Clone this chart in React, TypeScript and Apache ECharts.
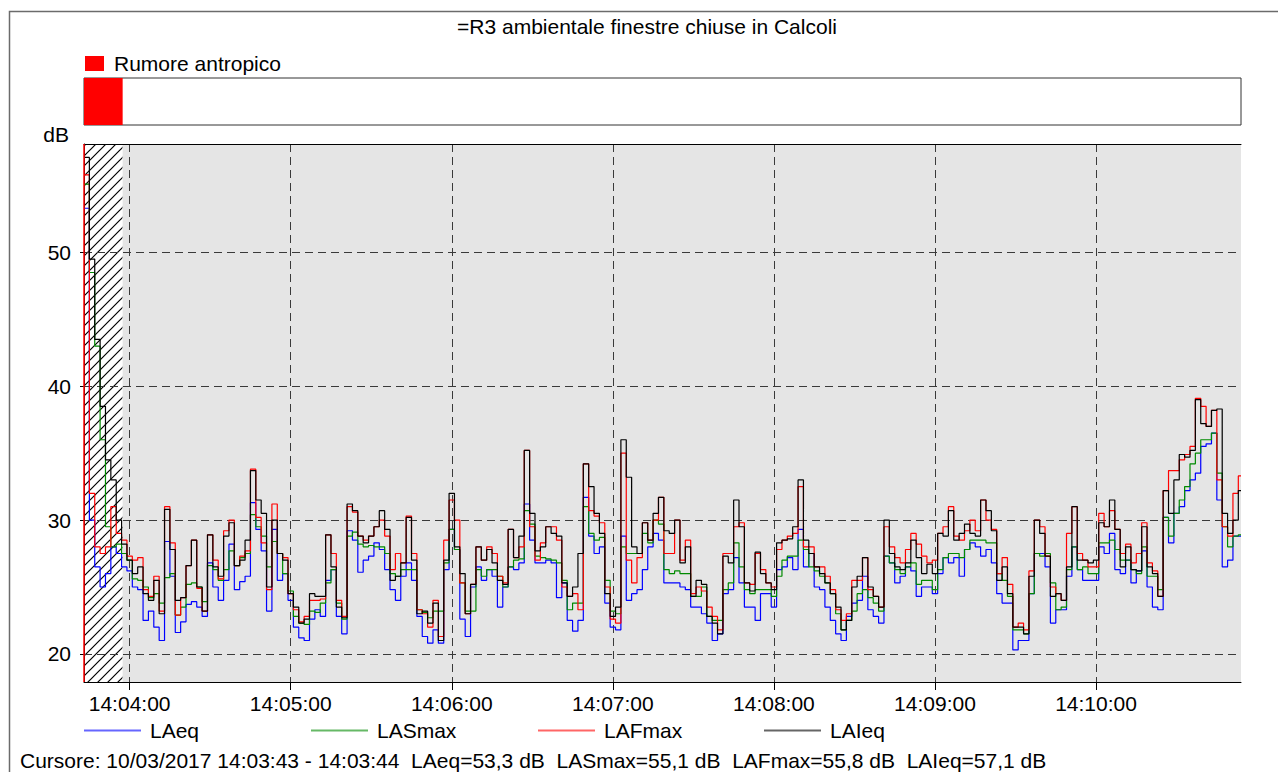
import React, { useEffect, useRef } from 'react';
import * as echarts from 'echarts';

// ---------- texts ----------
const chartTitle = '=R3 ambientale finestre chiuse in Calcoli';
const eventLabel = 'Rumore antropico';
const cursorText =
  'Cursore: 10/03/2017 14:03:43 - 14:03:44  LAeq=53,3 dB  LASmax=55,1 dB  LAFmax=55,8 dB  LAIeq=57,1 dB';
const yUnit = 'dB';

// ---------- time axis ----------
const axisOrigin = '14:04:00';
const axisStart = '14:03:43';
const axisEnd = '14:10:54';
const sampleStart = '14:03:43';
const sampleStepSeconds = 2;
const cursorTime = '14:03:43';
const eventRange = ['14:03:43', '14:03:57.4'];
const xTickLabels = ['14:04:00', '14:05:00', '14:06:00', '14:07:00', '14:08:00', '14:09:00', '14:10:00'];

// ---------- level axis ----------
const yRange = [17.9, 58.1];
const yTicks = [20, 30, 40, 50];

// ---------- series (dB), one value per 2 s from 14:03:43 ----------
const LAeq = [
  53.3, 30, 26.5, 25, 26, 28, 27.5, 26.5, 26.2, 25,
  24.8, 22.5, 23.2, 22, 21, 28.4, 25.8, 21.6, 22.4, 23.7,
  23.9, 23.5, 22.8, 26.8, 25, 24, 25.5, 28.2, 24.8, 25.4,
  25.8, 31.3, 29.3, 27.7, 23.2, 29.3, 25.5, 26, 24, 22,
  21.2, 21, 22.6, 23.3, 22.8, 25.5, 26.3, 22.8, 21.5, 29.2,
  28.5, 26.1, 27, 27.3, 28.3, 27.8, 26.3, 24.8, 24, 25.8,
  26.8, 25.5, 22.8, 21.3, 20.8, 21.8, 20.8, 26.3, 29.3, 27.8,
  22.6, 21.3, 25, 26.5, 25.5, 26.3, 25.8, 23.5, 25, 26.5,
  26.3, 26.8, 31.2, 28.5, 26.8, 26.8, 27, 26.8, 24.2, 25.3,
  22.5, 21.7, 22.5, 31.7, 28.8, 27.5, 28, 23.8, 22, 21.8,
  28.8, 24, 24.5, 24.8, 26.3, 28, 29, 28.5, 25.3, 25.3,
  25.3, 25, 24.8, 23.5, 23.5, 23, 22.3, 21, 21.5, 24.5,
  24.8, 27.2, 25.3, 23.5, 23.5, 22.5, 24.5, 24.5, 23.5, 26.3,
  26.5, 27.2, 26.3, 29.3, 26.5, 27.5, 25, 24.8, 23.5, 22.5,
  21.5, 21, 22.8, 23.8, 24, 25.8, 23.3, 22.8, 22.3, 27.3,
  26.8, 25.3, 25.8, 26.5, 26.2, 24.3, 25, 25, 24.5, 26,
  27.2, 26.8, 27.2, 25.8, 27.8, 28.3, 28, 27.3, 27.8, 26.8,
  24.5, 23.8, 23.8, 20.3, 21, 21, 24.5, 27.5, 27.5, 26.5,
  22.3, 23.3, 23.3, 25.8, 28, 26.3, 25.5, 25.5, 25.5, 28,
  27.5, 29, 26.3, 26, 27, 25.3, 26.2, 27.7, 25, 23.5,
  23.3, 30.2, 28.3, 30.5, 31, 32.2, 33, 33.5, 35.5, 35.7,
  36.5, 31.5, 26.5, 27, 28.8, 28.8,
];

const LASmax = [
  55.1, 48.5, 43, 36, 29.5, 28, 28.2, 27.5, 27, 25.6,
  25.5, 25, 24.2, 24.5, 23.8, 25.7, 26, 22.9, 23.5, 25.2,
  25.3, 25, 23.9, 26.6, 26.3, 25.5, 26.3, 27.7, 26.6, 27.2,
  27.5, 30.4, 29.5, 28.8, 26.5, 28.4, 27.5, 26, 24.7, 22.8,
  22.3, 22.2, 23.2, 23.1, 23.8, 25.3, 26.3, 23.8, 22.6, 28.8,
  29.1, 28.2, 28, 28.1, 28, 28, 27.5, 26, 25.8, 26.3,
  26.3, 26.3, 23.3, 23.1, 22.7, 23.2, 23.2, 26.8, 29.3, 27.8,
  25.3, 23.2, 23.2, 26.3, 25.8, 26.3, 26.3, 25.8, 25, 26.5,
  27, 27.1, 30.7, 29.7, 27.3, 27.2, 27.1, 27, 26.8, 25.5,
  23.3, 23.8, 23.8, 31, 29, 28.5, 28.7, 25.5, 23.2, 23,
  28, 27.5, 27.5, 27.5, 29, 28.3, 30, 29.7, 26.3, 26,
  26.2, 26, 26, 24.3, 24.3, 25, 22.8, 22.5, 22.5, 24.8,
  25.3, 28.3, 26.5, 24.8, 24.5, 24.8, 24.8, 24.8, 24.3, 25.8,
  27, 27.3, 27.3, 28.5, 27.8, 26.5, 26.2, 25.8, 25.3, 24.5,
  23, 21.8, 22.5, 23.2, 24.5, 24.8, 24.2, 23.8, 23.2, 27.3,
  26.8, 26.3, 26, 26.5, 26.8, 25.2, 25.5, 25.5, 24.8, 26.3,
  27.2, 27.5, 27.5, 27.2, 27.8, 28.5, 28.5, 28.5, 28.3, 28.3,
  26, 25.5, 24.3, 21.8, 21.8, 21.5, 24.5, 27.5, 27.3, 27.5,
  25.3, 23.3, 23.5, 26.3, 28, 26.3, 26.5, 26, 26, 28.3,
  28.3, 28.5, 27.8, 27, 27, 26.3, 26, 28, 25.8, 25.8,
  24.8, 30.2, 28.8, 30.5, 31.5, 32.5, 34.2, 35, 36, 36,
  36.5, 33.5, 29.5, 28, 28.8, 28.9,
];

const LAFmax = [
  55.8, 32, 28, 27.5, 28, 31, 29, 28.5, 27.3, 27,
  27.2, 24.8, 24.3, 25.8, 23.2, 31, 28.3, 22.9, 24.2, 26.6,
  28.5, 24.9, 23.2, 28.9, 27, 25.6, 29.2, 30, 26.6, 27.3,
  27.7, 33.8, 30.2, 28.3, 24.8, 31.2, 27.5, 27.2, 24.5, 23.3,
  22.4, 22.8, 24, 24, 24.1, 28.9, 27.5, 24, 22.8, 31,
  30.6, 28.8, 28.5, 28.8, 29.5, 30, 28.8, 26.3, 27.5, 26.8,
  30.3, 27.5, 23.3, 23, 22, 24, 21.3, 28.5, 31.5, 30,
  25.3, 23, 25.2, 28, 27, 28, 27.5, 25.8, 25.3, 29.3,
  27.2, 28, 35.2, 29.5, 27, 28.3, 29.5, 29.5, 28.5, 25,
  24.3, 24.5, 23.3, 34.2, 30.7, 30.3, 29.8, 25, 22.6, 22.3,
  35, 27, 25.3, 27.2, 29.8, 28.5, 30, 31.7, 27.5, 27.5,
  30, 27, 28.5, 24.5, 25, 24.7, 23.5, 22.8, 21.8, 27.5,
  27.5, 29.5, 29.8, 25.3, 25.2, 27.5, 26.3, 25.3, 25, 27.8,
  28.5, 28.8, 29, 32.5, 28, 28, 26.5, 26.5, 25.8, 24.8,
  23.3, 22.5, 23, 25.5, 25.5, 27.2, 24.8, 24.3, 23.5, 29.5,
  28, 27.2, 26.8, 27.8, 29, 28.2, 27.3, 26.8, 27, 29,
  29.5, 31, 28.8, 28.5, 29.2, 30, 29.2, 31.5, 30, 29.3,
  26, 27.2, 25.2, 22, 22.3, 21.8, 26.2, 30, 29.5, 27.3,
  25, 24.5, 24, 29, 31, 27.5, 27, 26.5, 26.5, 30.5,
  29.5, 30.7, 29.3, 27.5, 28.2, 26.8, 27.5, 29.8, 26.8, 26.2,
  24.3, 32.2, 33.7, 33.7, 34.5, 34.9, 35.5, 39.1, 38.5, 37,
  38.2, 33, 29.5, 28.8, 32, 33.3,
];

const LAIeq = [
  57.1, 49.5, 43.5, 38.5, 34.5, 33, 30, 28.2, 27, 26,
  26.5, 24.5, 24, 25.5, 23, 30.8, 27.8, 24, 24.2, 26.6,
  28.5, 25, 23.2, 28.9, 26.5, 25.8, 28.8, 29.8, 26.6, 27,
  28.5, 33.7, 31.5, 30.5, 25, 30, 27.5, 27, 24.5, 23.5,
  22.3, 22.6, 24.5, 24.3, 24.3, 28.9, 26.5, 23.5, 22.7, 31.2,
  30.7, 28.8, 28.3, 28.8, 29.5, 30.7, 29.3, 25.5, 25.8, 26.8,
  30.2, 27, 23, 23.2, 22.3, 23.8, 21, 27, 32, 28,
  26, 23, 25.2, 28, 27, 27.8, 26.8, 25.5, 25.2, 29.3,
  27.2, 28.8, 35.2, 30.5, 27.7, 28, 29.5, 29, 28.8, 25.3,
  24.3, 25, 27.5, 34.2, 32.5, 30.5, 29, 24.5, 22.8, 23.5,
  36, 33.2, 28, 27.5, 29.8, 28.5, 30.5, 31.7, 29.2, 29,
  30, 26.8, 28, 24.3, 25.5, 25.2, 22.8, 22.3, 21.5, 27.3,
  26.8, 31.5, 29.5, 25.3, 24.7, 27.6, 26, 25.3, 24.8, 28.3,
  28.5, 28.6, 29.5, 33, 28.5, 27.5, 26.5, 26, 25.3, 24.5,
  23.5, 21.8, 22.5, 25, 25.8, 27.2, 25, 24.3, 23.5, 30,
  27.5, 26.5, 26.3, 26.8, 28.5, 27.2, 26, 26.7, 26, 29,
  28.8, 30.7, 28.5, 29, 29.7, 29, 28.8, 31.5, 30.7, 29.2,
  25.5, 26.5, 24.5, 22, 22, 21.5, 25.8, 30, 29, 27.3,
  24.3, 24.5, 24, 26.5, 31, 27, 27, 26.8, 27, 29.8,
  29.5, 31.5, 29.3, 26.5, 28, 26.3, 26.2, 29.5, 26.5, 26,
  24.3, 32.2, 30.5, 33, 34.9, 34.7, 35.2, 39, 37.2, 37,
  38.2, 38.3, 30.5, 29, 30, 32.2,
];

const seriesDefs = [
  { name: 'LAeq', values: LAeq, color: '#0000ff' },
  { name: 'LASmax', values: LASmax, color: '#008a00' },
  { name: 'LAFmax', values: LAFmax, color: '#ff0000' },
  { name: 'LAIeq', values: LAIeq, color: '#000000' },
];

// ---------- helpers ----------
const FONT = '"Liberation Sans", Arial, Helvetica, sans-serif';
const FONT_SIZE = 21;
const toSec = (s: string) => {
  const [h, m, sec] = s.split(':').map(Number);
  return h * 3600 + m * 60 + sec;
};
const originSec = toSec(axisOrigin);
const rel = (s: string) => toSec(s) - originSec;

const xMin = rel(axisStart);
const xMax = rel(axisEnd);
const xTickValues = xTickLabels.map(rel);
const tickLabelMap = new Map<number, string>(xTickValues.map((v, i) => [v, xTickLabels[i]]));
const t0 = rel(sampleStart);

function buildSeriesData(values: number[]) {
  const pts: [number, number][] = values.map((v, i) => [t0 + i * sampleStepSeconds, v]);
  // close the last step at the right edge of the plot
  pts.push([xMax, values[values.length - 1]]);
  return pts;
}

function makeHatch(): string {
  const size = 10;
  const c = document.createElement('canvas');
  c.width = size;
  c.height = size;
  const g = c.getContext('2d')!;
  g.fillStyle = '#ffffff';
  g.fillRect(0, 0, size, size);
  g.strokeStyle = '#000000';
  g.lineWidth = 1.2;
  g.beginPath();
  g.moveTo(0, size);
  g.lineTo(size, 0);
  g.moveTo(-2, 2);
  g.lineTo(2, -2);
  g.moveTo(size - 2, size + 2);
  g.lineTo(size + 2, size - 2);
  g.stroke();
  return c.toDataURL();
}

export default function App() {
  const ref = useRef<HTMLDivElement>(null);

  useEffect(() => {
    if (!ref.current) return;
    const chart = echarts.init(ref.current, undefined, { renderer: 'svg' });
    const hatch = { image: makeHatch(), repeat: 'repeat', imageWidth: 10, imageHeight: 10 };
    const evStart = rel(eventRange[0]);
    const evEnd = rel(eventRange[1]);

    const plotAreas = [
      [xMin, evEnd, 0],
      [evEnd, xMax, 1],
    ];

    const gridLine = { color: '#3a3a3a', type: [8, 5] as number[], width: 1 };
    const textBase = { fontSize: FONT_SIZE, fontFamily: FONT, color: '#000' };

    const option: any = {
      animation: false,
      backgroundColor: '#ffffff',
      textStyle: { fontFamily: FONT },
      graphic: [
        {
          type: 'rect',
          silent: true,
          shape: { x: 9.5, y: 11.5, width: 1400, height: 1000 },
          style: { fill: 'none', stroke: '#6b6b6b', lineWidth: 1.5 },
        },
        {
          type: 'text',
          x: 647,
          y: 26,
          silent: true,
          style: { text: chartTitle, fontSize: FONT_SIZE, fontFamily: FONT, fill: '#000', align: 'center', verticalAlign: 'middle' },
        },
        {
          type: 'text',
          x: 20,
          y: 760,
          silent: true,
          style: { text: cursorText, fontSize: FONT_SIZE, fontFamily: FONT, fill: '#000', align: 'left', verticalAlign: 'middle' },
        },
      ],
      grid: [
        { left: 84, top: 144, width: 1157, height: 538, containLabel: false },
        { left: 84, top: 78, width: 1157, height: 47, show: true, backgroundColor: '#ffffff', borderColor: '#333', borderWidth: 1 },
      ],
      legend: [
        {
          data: [eventLabel],
          left: 85,
          top: 53,
          padding: 0,
          icon: 'rect',
          itemWidth: 19,
          itemHeight: 15,
          selectedMode: false,
          textStyle: { ...textBase, padding: [0, 0, 0, 5] },
        },
        ...seriesDefs.map((s, i) => ({
          data: [s.name],
          left: [84, 311, 538, 764][i],
          top: 720,
          padding: 0,
          icon: 'rect',
          itemWidth: 57,
          itemHeight: 2,
          selectedMode: false,
          itemStyle: { opacity: 0.6 },
          textStyle: { ...textBase, padding: [0, 0, 0, 4] },
        })),
      ],
      xAxis: [
        {
          type: 'value',
          gridIndex: 0,
          position: 'bottom',
          min: xMin,
          max: xMax,
          z: 1,
          axisLine: { show: true, onZero: false, lineStyle: { color: '#000', width: 1 } },
          axisTick: { show: true, length: 8, customValues: xTickValues, lineStyle: { color: '#000' } },
          axisLabel: {
            customValues: xTickValues,
            formatter: (v: number) => tickLabelMap.get(v) ?? '',
            ...textBase,
            margin: 11,
          },
          splitLine: { show: true, lineStyle: gridLine },
        },
        {
          type: 'value',
          gridIndex: 0,
          position: 'top',
          min: xMin,
          max: xMax,
          z: 1,
          axisLine: { show: true, onZero: false, lineStyle: { color: '#000', width: 1 } },
          axisTick: { show: false },
          axisLabel: { show: false },
          splitLine: { show: false },
        },
        { type: 'value', gridIndex: 1, min: xMin, max: xMax, show: false, splitLine: { show: false } },
      ],
      yAxis: [
        {
          type: 'value',
          gridIndex: 0,
          min: yRange[0],
          max: yRange[1],
          z: 1,
          name: yUnit,
          nameLocation: 'end',
          nameGap: 10,
          nameTextStyle: { ...textBase, align: 'right', verticalAlign: 'middle', padding: [0, 15, 0, 0] },
          axisLine: { show: true, onZero: false, lineStyle: { color: '#000', width: 1 } },
          axisTick: { show: true, length: 4, customValues: yTicks, lineStyle: { color: '#000' } },
          axisLabel: { customValues: yTicks, ...textBase, margin: 13 },
          splitLine: { show: true, lineStyle: gridLine },
        },
        { type: 'value', gridIndex: 1, min: 0, max: 1, show: false, splitLine: { show: false } },
      ],
      series: [
        {
          type: 'custom',
          name: 'plot-area',
          xAxisIndex: 0,
          yAxisIndex: 0,
          z: 0,
          silent: true,
          encode: { x: [0, 1] },
          data: plotAreas,
          renderItem: (params: any, api: any) => {
            const a = api.coord([api.value(0), yRange[0]]);
            const b = api.coord([api.value(1), yRange[0]]);
            const cs = params.coordSys;
            return {
              type: 'rect',
              shape: { x: a[0], y: cs.y, width: b[0] - a[0], height: cs.height },
              style: { fill: api.value(2) === 0 ? hatch : '#e5e5e5' },
            };
          },
        },
        {
          type: 'custom',
          name: eventLabel,
          xAxisIndex: 2,
          yAxisIndex: 1,
          silent: true,
          encode: { x: [0, 1] },
          itemStyle: { color: '#ff0000' },
          data: [[evStart, evEnd]],
          renderItem: (params: any, api: any) => {
            const a = api.coord([api.value(0), 0]);
            const b = api.coord([api.value(1), 0]);
            const cs = params.coordSys;
            return {
              type: 'rect',
              shape: { x: a[0], y: cs.y, width: b[0] - a[0], height: cs.height },
              style: { fill: '#ff0000' },
            };
          },
        },
        ...seriesDefs.map((s) => ({
          type: 'line',
          name: s.name,
          xAxisIndex: 0,
          yAxisIndex: 0,
          z: 3,
          step: 'end',
          symbol: 'none',
          showSymbol: false,
          silent: true,
          color: s.color,
          lineStyle: { color: s.color, width: 1.2 },
          data: buildSeriesData(s.values),
          markLine:
            s.name === 'LAFmax'
              ? {
                  silent: true,
                  symbol: ['none', 'none'],
                  label: { show: false },
                  lineStyle: { color: '#ff0000', type: 'solid', width: 1.5 },
                  data: [{ xAxis: rel(cursorTime) }],
                }
              : undefined,
        })),
      ],
    };

    chart.setOption(option);
    return () => chart.dispose();
  }, []);

  return (
    <div
      ref={ref}
      style={{ position: 'absolute', left: 0, top: 0, width: 1278, height: 772, background: '#ffffff' }}
    />
  );
}
